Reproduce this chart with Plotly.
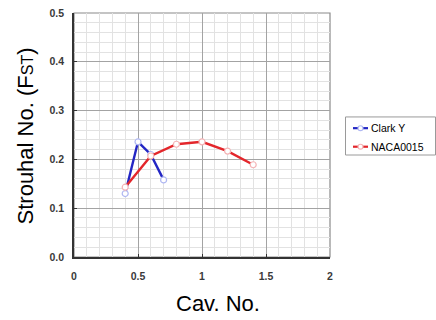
import plotly.graph_objects as go

# Strouhal number vs cavitation number for two hydrofoil sections
clark_y_cav = [0.4, 0.5, 0.6, 0.7]
clark_y_st = [0.13, 0.236, 0.21, 0.158]

naca_cav = [0.4, 0.6, 0.8, 1.0, 1.2, 1.4]
naca_st = [0.143, 0.207, 0.231, 0.236, 0.217, 0.189]

series_names = ["Clark Y", "NACA0015"]
line_colors = ["#2326c4", "#e3262b"]
marker_edges = ["#b0b8f2", "#f4b4b6"]

W, H = 436, 320
L, R, T, B = 74, 330, 7, 257  # plot area in pixels


def px(x):
    return (x - L) / (R - L)


def py(y):
    return (B - y) / (B - T)


FONT = "Liberation Sans, Arial, sans-serif"

fig = go.Figure()
for xs, ys, name, lc, mc in [
    (clark_y_cav, clark_y_st, series_names[0], line_colors[0], marker_edges[0]),
    (naca_cav, naca_st, series_names[1], line_colors[1], marker_edges[1]),
]:
    fig.add_trace(go.Scatter(
        x=xs, y=ys, name=name, mode="lines+markers", showlegend=False,
        line=dict(color=lc, width=2.4),
        marker=dict(symbol="circle", size=6, color="white",
                    line=dict(color=mc, width=1.2)),
        cliponaxis=False,
    ))

axis_common = dict(
    showgrid=True, gridcolor="#a3a3a3", gridwidth=1,
    showline=True, linecolor="#333333", linewidth=1.6,
    ticks="inside", ticklen=3, tickcolor="#333333", tickwidth=1.2,
    zeroline=False,
    tickfont=dict(family=FONT, size=10.5, color="#3a3a3a", weight="bold"),
)

fig.update_xaxes(
    range=[0, 2], dtick=0.5, tick0=0,
    minor=dict(dtick=0.1, showgrid=True, gridcolor="#e2e2e2", gridwidth=1),
    ticklabelstandoff=9,
    **axis_common,
)
fig.update_yaxes(
    range=[0, 0.5], dtick=0.1, tick0=0, tickformat=".1f",
    minor=dict(dtick=0.02, showgrid=True, gridcolor="#e2e2e2", gridwidth=1),
    ticklabelstandoff=6,
    **axis_common,
)

shapes = [
    # gray outer frame (top and right edges)
    dict(type="rect", xref="paper", yref="paper", x0=0, x1=1, y0=0, y1=1,
         line=dict(color="#8a8a8a", width=1.2), layer="below"),
    # legend box
    dict(type="rect", xref="paper", yref="paper",
         x0=px(345.5), x1=px(435.5), y0=py(152.5), y1=py(113.5),
         line=dict(color="#9a9a9a", width=1), fillcolor="white"),
]

annotations = [
    dict(text="Cav. No.", xref="paper", yref="paper", x=px(218), y=py(305),
         xanchor="center", yanchor="middle", showarrow=False,
         font=dict(family=FONT, size=22, color="black")),
    dict(text="Strouhal No. (F<span style='font-size:16px'>ST</span>)",
         xref="paper", yref="paper", x=px(25), y=py(133.5), textangle=-90,
         xanchor="center", yanchor="middle", showarrow=False,
         font=dict(family=FONT, size=22, color="black")),
]

# legend entries
for i, (name, lc, mc) in enumerate(zip(series_names, line_colors, marker_edges)):
    yc = 125 + 19 * i
    shapes.append(dict(type="line", xref="paper", yref="paper",
                       x0=px(353), x1=px(368), y0=py(yc), y1=py(yc),
                       line=dict(color=lc, width=2.2)))
    shapes.append(dict(type="circle", xref="paper", yref="paper",
                       x0=px(358), x1=px(363), y0=py(yc + 2.5), y1=py(yc - 2.5),
                       fillcolor="white", line=dict(color=mc, width=1.1)))
    annotations.append(dict(text=name, xref="paper", yref="paper",
                            x=px(369), y=py(yc), xanchor="left", yanchor="middle",
                            showarrow=False,
                            font=dict(family=FONT, size=10.5, color="black")))

fig.update_layout(
    width=W, height=H,
    margin=dict(l=L, r=W - R, t=T, b=H - B),
    paper_bgcolor="white", plot_bgcolor="white",
    shapes=shapes, annotations=annotations,
    showlegend=False,
)

fig.write_html("out.html")
